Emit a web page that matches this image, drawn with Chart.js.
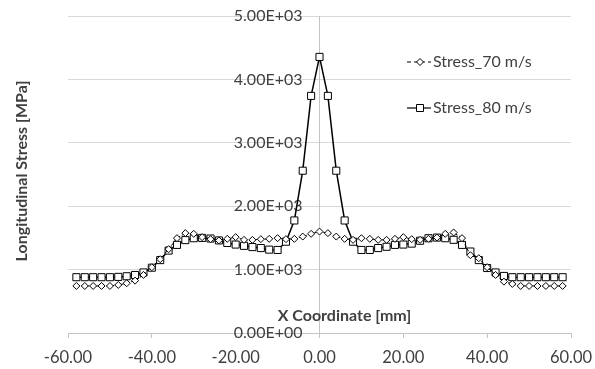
<!DOCTYPE html>
<html>
<head>
<meta charset="utf-8">
<script src="https://cdn.jsdelivr.net/npm/chart.js@4.4.1/dist/chart.umd.min.js"></script>
<style>
  html, body { margin: 0; padding: 0; background: #fff; }
  #wrap { width: 595px; height: 369px; position: relative; }
</style>
</head>
<body>
<div id="wrap"><canvas id="stressChart"></canvas></div>
<script>
// x positions along the specimen [mm]
const xCoords = [
  -58, -56, -54, -52, -50, -48, -46, -44, -42, -40,
  -38, -36, -34, -32, -30, -28, -26, -24, -22, -20,
  -18, -16, -14, -12, -10, -8, -6, -4, -2, 0,
  2, 4, 6, 8, 10, 12, 14, 16, 18, 20,
  22, 24, 26, 28, 30, 32, 34, 36, 38, 40,
  42, 44, 46, 48, 50, 52, 54, 56, 58
];

// longitudinal stress [MPa]
const stress70 = [
  742, 742, 742, 742, 742, 758, 785, 826, 916, 1038,
  1164, 1322, 1496, 1575, 1564, 1512, 1480, 1460, 1485, 1512,
  1469, 1469, 1480, 1485, 1496, 1480, 1485, 1521, 1564, 1600,
  1575, 1521, 1485, 1469, 1495, 1485, 1469, 1469, 1485, 1512,
  1480, 1469, 1485, 1506, 1564, 1585, 1496, 1227, 1180, 1038,
  916, 810, 774, 742, 742, 742, 742, 742, 742
];

const stress80 = [
  880, 880, 880, 880, 880, 885, 895, 915, 955, 1030,
  1150, 1300, 1390, 1465, 1495, 1500, 1490, 1460, 1420, 1395,
  1375, 1355, 1340, 1315, 1310, 1440, 1775, 2560, 3740, 4355,
  3740, 2560, 1775, 1440, 1310, 1310, 1340, 1360, 1390, 1395,
  1410, 1455, 1495, 1505, 1495, 1470, 1390, 1285, 1150, 1025,
  955, 900, 880, 880, 880, 880, 880, 880, 880
];

const seriesNames = ['Stress_70 m/s', 'Stress_80 m/s'];
const xTicks = [-60, -40, -20, 0, 20, 40, 60];
const yTicks = [0, 1000, 2000, 3000, 4000, 5000];

const FONT = 'Lato, "Open Sans", sans-serif';
const TEXT = '#404040';

function sci(v) {
  if (v === 0) return '0.00E+00';
  const e = Math.floor(Math.log10(Math.abs(v)));
  const m = v / Math.pow(10, e);
  return m.toFixed(2) + 'E' + (e < 0 ? '-' : '+') + String(Math.abs(e)).padStart(2, '0');
}

// y labels sit left of the axis that crosses at x = 0, plus both axis titles
const labelsPlugin = {
  id: 'axisText',
  beforeDatasetsDraw(chart) {
    const ctx = chart.ctx;
    const xs = chart.scales.x, ys = chart.scales.y;
    const x0 = xs.getPixelForValue(0);
    ctx.save();
    ctx.fillStyle = TEXT;
    ctx.font = '16px ' + FONT;
    ctx.textAlign = 'right';
    ctx.textBaseline = 'middle';
    yTicks.forEach(v => ctx.fillText(sci(v), x0 - 17, ys.getPixelForValue(v)));

    ctx.font = 'bold 16px ' + FONT;
    ctx.textAlign = 'center';
    ctx.fillText('X Coordinate [mm]', x0 + 25, ys.bottom - 17);

    ctx.translate(22, 171);
    ctx.rotate(-Math.PI / 2);
    ctx.fillText('Longitudinal Stress [MPa]', 0, 0);
    ctx.restore();
  }
};

// legend with a line sample and marker for each series
const legendPlugin = {
  id: 'lineLegend',
  afterDraw(chart) {
    const ctx = chart.ctx;
    ctx.save();
    const items = [
      { y: 62, dash: [4, 3], marker: 'diamond' },
      { y: 108, dash: [], marker: 'square' }
    ];
    items.forEach((it, i) => {
      ctx.strokeStyle = '#000';
      ctx.lineWidth = 1.2;
      ctx.setLineDash(it.dash);
      ctx.beginPath();
      ctx.moveTo(407, it.y);
      ctx.lineTo(431, it.y);
      ctx.stroke();
      ctx.setLineDash([]);
      ctx.fillStyle = '#fff';
      ctx.lineWidth = 1;
      ctx.beginPath();
      if (it.marker === 'diamond') {
        ctx.moveTo(420, it.y - 3.5);
        ctx.lineTo(423.5, it.y);
        ctx.lineTo(420, it.y + 3.5);
        ctx.lineTo(416.5, it.y);
        ctx.closePath();
      } else {
        ctx.rect(416.5, it.y - 3.5, 7, 7);
      }
      ctx.fill();
      ctx.stroke();
      ctx.fillStyle = TEXT;
      ctx.font = '16px ' + FONT;
      ctx.textAlign = 'left';
      ctx.textBaseline = 'middle';
      ctx.fillText(seriesNames[i], 433, it.y);
    });
    ctx.restore();
  }
};

new Chart(document.getElementById('stressChart'), {
  type: 'line',
  data: {
    datasets: [
      {
        label: seriesNames[0],
        data: xCoords.map((x, i) => ({ x: x, y: stress70[i] })),
        borderColor: '#000',
        borderWidth: 1,
        borderDash: [3, 2],
        pointStyle: 'rectRot',
        pointRadius: 3.5,
        pointBackgroundColor: '#fff',
        pointBorderColor: '#000',
        pointBorderWidth: 1,
        tension: 0
      },
      {
        label: seriesNames[1],
        data: xCoords.map((x, i) => ({ x: x, y: stress80[i] })),
        borderColor: '#000',
        borderWidth: 1.5,
        pointStyle: 'rect',
        pointRadius: 5,
        pointBackgroundColor: '#fff',
        pointBorderColor: '#000',
        pointBorderWidth: 1,
        tension: 0
      }
    ]
  },
  options: {
    responsive: true,
    maintainAspectRatio: false,
    animation: false,
    layout: { padding: { left: 68, right: 24, top: 16, bottom: 0 } },
    plugins: {
      legend: { display: false },
      tooltip: { enabled: false }
    },
    scales: {
      x: {
        type: 'linear',
        position: 'bottom',
        min: -60,
        max: 60,
        afterBuildTicks: s => { s.ticks = xTicks.map(v => ({ value: v })); },
        afterFit: s => { s.height = 36; s.paddingLeft = 0; s.paddingRight = 0; },
        border: { color: '#c4c4c4', width: 1 },
        grid: { drawOnChartArea: false, drawTicks: true, tickLength: 5, color: '#c4c4c4' },
        ticks: {
          padding: 10,
          color: TEXT,
          font: { family: FONT, size: 16.5 },
          maxRotation: 0,
          callback: v => v.toFixed(2)
        }
      },
      y: {
        type: 'linear',
        position: { x: 0 },
        min: 0,
        max: 5000,
        afterBuildTicks: s => { s.ticks = yTicks.map(v => ({ value: v })); },
        afterFit: s => { s.paddingTop = 0; s.paddingBottom = 0; },
        border: { color: '#c4c4c4', width: 1 },
        grid: { color: '#d9d9d9', drawTicks: false },
        ticks: { display: false }
      }
    }
  },
  plugins: [labelsPlugin, legendPlugin]
});
</script>
</body>
</html>
